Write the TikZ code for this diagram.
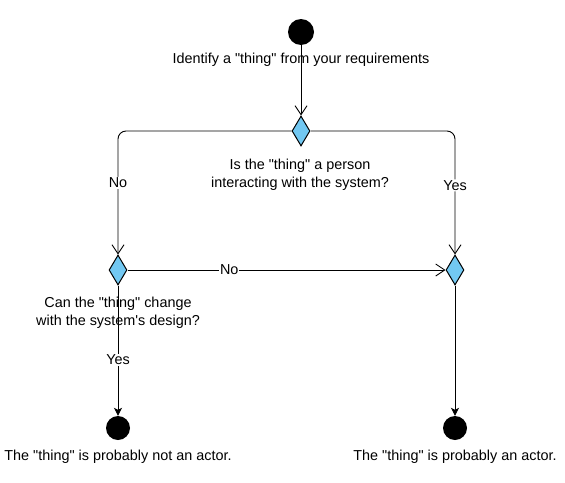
\documentclass[tikz,border=0pt]{standalone}
\usepackage{xcolor}
\usepackage{fontspec}
\setmainfont{Liberation Sans}[Ligatures=TeXOff]
\usetikzlibrary{arrows.meta,positioning,shapes.geometric}
\definecolor{decblue}{HTML}{72C8F2}

\begin{document}
\begin{tikzpicture}[x=1pt, y=-1pt,
  startnode/.style={circle, fill=black, minimum size=26pt, inner sep=0pt},
  endnode/.style={circle, fill=black, minimum size=24pt, inner sep=0pt},
  decision/.style={diamond, draw, fill=decblue, line width=1pt, minimum width=18pt, minimum height=30pt, inner sep=0pt},
  note/.style={align=center, font=\fontsize{14.4}{18}\selectfont},
  flow/.style={-{Straight Barb[length=9pt,width=12pt]}, line width=0.9pt},
  finish/.style={-{Stealth[length=8pt,width=8pt,inset=2pt]}, line width=0.9pt},
  lbl/.style={fill=white, inner sep=1pt, font=\fontsize{14.4}{16}\selectfont}
]
  \useasboundingbox (0,0) rectangle (565,482);

  \node[startnode] (start) at (301,32) {};
  \node[decision]  (ask)   at (301,131) {};
  \node[decision]  (chg)   at (118,270) {};
  \node[decision]  (pers)  at (455,270) {};
  \node[endnode]   (notact) at (118,428) {};
  \node[endnode]   (isact)  at (455,428) {};

  \node[note] (t0) at (301,60)  {Identify a "thing" from your requirements};
  \node[note] (t1) at (300,175) {Is the "thing" a person\\interacting with the system?};
  \node[note] (t2) at (118,313) {Can the "thing" change\\with the system's design?};
  \node[note] (t3) at (118,457) {The "thing" is probably not an actor.};
  \node[note] (t4) at (455,457) {The "thing" is probably an actor.};

  \draw[flow] (start) -- (ask.north);
  \draw[flow, rounded corners=8pt] (ask.west) -| node[lbl, pos=0.71] {No} (chg.north);
  \draw[flow, rounded corners=8pt] (ask.east) -| node[lbl, pos=0.72] {Yes} (pers.north);
  \draw[flow] (chg.east) -- node[lbl, pos=0.32] {No} (pers.west);
  \draw[finish] (chg.south) -- node[lbl, pos=0.57] {Yes} (notact);
  \draw[finish] (pers.south) -- (isact);
\end{tikzpicture}
\end{document}
